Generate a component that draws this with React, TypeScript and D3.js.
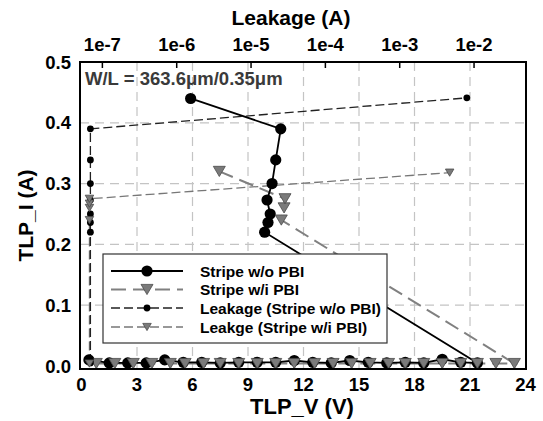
import React from "react";
import * as d3 from "d3";

// ---- Data ----
// Stripe w/o PBI: TLP_V (V), TLP_I (A)
const woV = [0.4, 1.5, 2.5, 3.5, 4.5, 5.5, 6.5, 7.5, 8.5, 9.5, 10.5, 11.5, 12.5, 13.5, 14.5, 15.5, 16.5, 17.5, 18.5, 19.5, 20.5, 21.4, 9.9, 10.08, 10.2, 10.03, 10.3, 10.5, 10.77, 5.9];
const woI = [0.01, 0.005, 0.005, 0.005, 0.01, 0.006, 0.006, 0.005, 0.006, 0.006, 0.006, 0.009, 0.006, 0.005, 0.009, 0.006, 0.005, 0.006, 0.005, 0.011, 0.006, 0.005, 0.22, 0.236, 0.25, 0.273, 0.30, 0.339, 0.39, 0.44];

// Stripe w/i PBI
const wiV = [0.8, 1.8, 2.8, 3.8, 4.8, 5.6, 6.6, 7.5, 8.5, 9.5, 10.5, 11.5, 12.6, 13.6, 14.6, 15.6, 16.6, 17.5, 18.5, 19.5, 20.5, 21.4, 22.4, 23.4, 10.8, 10.95, 11.0, 7.45];
const wiI = [0.004, 0.004, 0.004, 0.004, 0.004, 0.004, 0.004, 0.004, 0.004, 0.004, 0.004, 0.004, 0.004, 0.004, 0.004, 0.004, 0.004, 0.004, 0.004, 0.004, 0.004, 0.004, 0.004, 0.004, 0.24, 0.26, 0.275, 0.32];

// Leakage (Stripe w/o PBI): leakage (A), TLP_I (A)
const lkWoA = [6.9e-8, 6.9e-8, 6.9e-8, 6.9e-8, 6.9e-8, 6.9e-8, 6.9e-8, 6.9e-8, 6.9e-8, 8.0e-3];
const lkWoI = [0.005, 0.01, 0.22, 0.236, 0.25, 0.273, 0.30, 0.339, 0.39, 0.441];

// Leakage (Stripe w/i PBI)
const lkWiA = [6.7e-8, 6.7e-8, 6.7e-8, 6.7e-8, 6.7e-8, 4.7e-3];
const lkWiI = [0.004, 0.24, 0.26, 0.267, 0.275, 0.318];

const vTicks = [0, 3, 6, 9, 12, 15, 18, 21, 24];
const iTicks = [0.0, 0.1, 0.2, 0.3, 0.4, 0.5];
const leakTicks = [1e-7, 1e-6, 1e-5, 1e-4, 1e-3, 1e-2];
const leakTickLabels = ["1e-7", "1e-6", "1e-5", "1e-4", "1e-3", "1e-2"];
const vGrid = [3, 6, 9, 12, 15, 18, 21];
const iGrid = [0.1, 0.2, 0.3, 0.4];

const legendLabels = ["Stripe w/o PBI", "Stripe w/i PBI", "Leakage (Stripe w/o PBI)", "Leakge (Stripe w/i PBI)"];

const FONT = "'Liberation Sans', Arial, Helvetica, sans-serif";

const L = 80, R = 526, T = 62, B = 369;

export default function App() {
  const x = d3.scaleLinear().domain([0, 24]).range([L + 1.5, R - 0.5]);
  const y = d3.scaleLinear().domain([-0.005, 0.5]).range([B, T]);
  const xt = d3.scaleLog().domain([5e-8, 5e-2]).range([L, R]);

  const line = d3.line<[number, number]>().x(d => d[0]).y(d => d[1]);

  const wo = woV.map((v, i) => [x(v), y(woI[i])] as [number, number]);
  const wi = wiV.map((v, i) => [x(v), y(wiI[i])] as [number, number]);
  const lwo = lkWoA.map((a, i) => [xt(a), y(lkWoI[i])] as [number, number]);
  const lwi = lkWiA.map((a, i) => [xt(a), y(lkWiI[i])] as [number, number]);

  const tri = (cx: number, cy: number, w: number) => {
    const h = w * 0.85;
    return `M${cx - w / 2},${cy - h / 2}L${cx + w / 2},${cy - h / 2}L${cx},${cy + h / 2}Z`;
  };

  const legX = 103, legY = 254, legW = 284, legH = 89;
  const rowY = [271, 289.5, 308, 327];

  return (
    <svg width={543} height={421} style={{ position: "absolute", left: 0, top: 0, background: "#fff" }} fontFamily={FONT}>
      <rect x={0} y={0} width={543} height={421} fill="#fff" />
      {/* grid */}
      {vGrid.map(v => (
        <line key={"vg" + v} x1={x(v)} x2={x(v)} y1={T} y2={B} stroke="#c4c4c4" strokeWidth={1.2} strokeDasharray="9,6" />
      ))}
      {iGrid.map(v => (
        <line key={"ig" + v} x1={L} x2={R} y1={y(v)} y2={y(v)} stroke="#c4c4c4" strokeWidth={1.2} strokeDasharray="9,6" />
      ))}

      {/* data lines */}
      <path d={line(lwi) || ""} fill="none" stroke="#777" strokeWidth={1.3} strokeDasharray="9,4" />
      <path d={line(lwo) || ""} fill="none" stroke="#222" strokeWidth={1.3} strokeDasharray="9,4" />
      <path d={line(wi) || ""} fill="none" stroke="#808080" strokeWidth={2} strokeDasharray="15,7" />
      <path d={line(wo) || ""} fill="none" stroke="#000" strokeWidth={1.8} />

      {/* markers */}
      {wo.map((p, i) => <circle key={"wo" + i} cx={p[0]} cy={p[1]} r={5.6} fill="#000" />)}
      {wi.map((p, i) => <path key={"wi" + i} d={tri(p[0], p[1], 12)} fill="#7a7a7a" stroke="#4a4a4a" strokeWidth={0.8} />)}
      {lwo.map((p, i) => <circle key={"lwo" + i} cx={p[0]} cy={p[1]} r={3.4} fill="#000" />)}
      {lwi.map((p, i) => <path key={"lwi" + i} d={tri(p[0], p[1], 8.5)} fill="#7a7a7a" stroke="#4a4a4a" strokeWidth={0.8} />)}

      {/* frame */}
      <rect x={L} y={T} width={R - L} height={B - T} fill="none" stroke="#000" strokeWidth={2} />

      {/* top ticks */}
      {leakTicks.map((t, i) => (
        <g key={"lt" + i}>
          <line x1={xt(t)} x2={xt(t)} y1={T} y2={T + 6} stroke="#000" strokeWidth={1.5} />
          <text x={xt(t)} y={51} textAnchor="middle" fontSize={18.5} fontWeight="bold">{leakTickLabels[i]}</text>
        </g>
      ))}
      <text x={291} y={25} textAnchor="middle" fontSize={21} fontWeight="bold">Leakage (A)</text>

      {/* left ticks */}
      {iTicks.map(t => (
        <text key={"it" + t} x={71} y={y(t)} dy="0.36em" textAnchor="end" fontSize={18.5} fontWeight="bold">{t.toFixed(1)}</text>
      ))}
      <text transform={`translate(33,${(T + B) / 2}) rotate(-90)`} textAnchor="middle" fontSize={21} fontWeight="bold">TLP_I (A)</text>

      {/* bottom ticks */}
      {vTicks.map(t => (
        <text key={"vt" + t} x={x(t)} y={391} textAnchor="middle" fontSize={18.5} fontWeight="bold">{t}</text>
      ))}
      <text x={302} y={414} textAnchor="middle" fontSize={22} fontWeight="bold">TLP_V (V)</text>

      {/* annotation */}
      <text x={85} y={85} fontSize={18.5} fontWeight="bold" fill="#3a3a3a">W/L = 363.6μm/0.35μm</text>

      {/* legend */}
      <rect x={legX} y={legY} width={legW} height={legH} fill="#fff" stroke="#333" strokeWidth={1.2} />
      <line x1={111} x2={183} y1={rowY[0]} y2={rowY[0]} stroke="#000" strokeWidth={1.8} />
      <circle cx={147} cy={rowY[0]} r={5.6} fill="#000" />
      <line x1={111} x2={183} y1={rowY[1]} y2={rowY[1]} stroke="#808080" strokeWidth={2} strokeDasharray="15,7" />
      <path d={tri(147, rowY[1], 12)} fill="#7a7a7a" stroke="#4a4a4a" strokeWidth={0.8} />
      <line x1={111} x2={183} y1={rowY[2]} y2={rowY[2]} stroke="#222" strokeWidth={1.3} strokeDasharray="9,4" />
      <circle cx={147} cy={rowY[2]} r={3.4} fill="#000" />
      <line x1={111} x2={183} y1={rowY[3]} y2={rowY[3]} stroke="#777" strokeWidth={1.3} strokeDasharray="9,4" />
      <path d={tri(147, rowY[3], 8.5)} fill="#7a7a7a" stroke="#4a4a4a" strokeWidth={0.8} />
      {legendLabels.map((lab, i) => (
        <text key={"lg" + i} x={200} y={rowY[i] + 5.5} fontSize={15.5} fontWeight="bold">{lab}</text>
      ))}
    </svg>
  );
}
